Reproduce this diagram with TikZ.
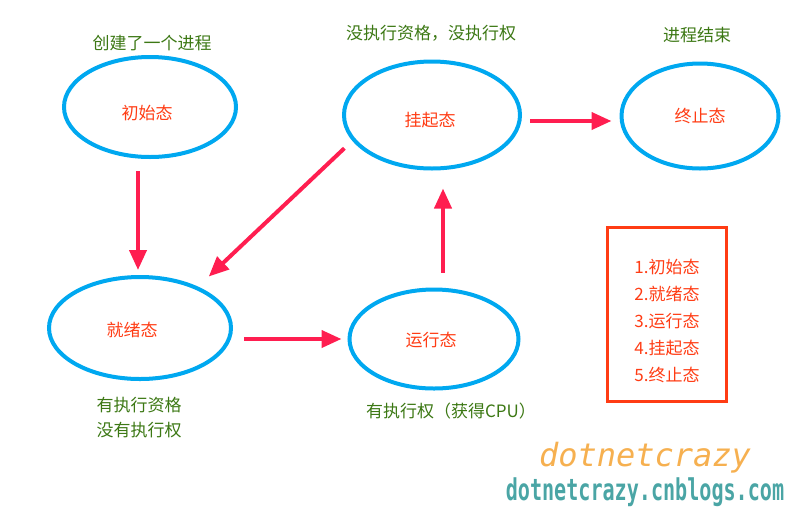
\documentclass[tikz,border=0pt]{standalone}
\usepackage{fontspec}
\newfontfamily\cjk{Noto Sans CJK SC}
\newfontfamily\wmfont{DejaVu Sans Mono}
\usetikzlibrary{shapes.geometric,arrows.meta}
\definecolor{ringblue}{RGB}{0,168,240}
\definecolor{arrred}{RGB}{255,30,80}
\definecolor{statered}{RGB}{255,60,20}
\definecolor{notegreen}{RGB}{60,120,20}
\definecolor{wmorange}{RGB}{246,176,80}
\definecolor{wmteal}{RGB}{74,165,165}
\begin{document}
\begin{tikzpicture}[x=1pt,y=-1pt,
    state/.style={ellipse,draw=ringblue,line width=4pt,inner sep=0pt},
    every label/.style={text=statered,font=\cjk\fontsize{17}{27}\selectfont,inner sep=0pt},
    note/.style={text=notegreen,font=\cjk\fontsize{17}{25}\selectfont,align=center},
    arr/.style={draw=arrred,line width=4pt,-{Triangle[length=20pt,width=17pt]}}]
  \useasboundingbox (0,0) rectangle (810,531);
  \draw
    (150,107) node[state,minimum width=172pt,minimum height=100pt,
      label={[shift={(-3,6)}]center:初始态}] (init){}
    (140,328) node[state,minimum width=182pt,minimum height=102pt,
      label={[shift={(-8,2)}]center:就绪态}] (ready){}
    (434,339) node[state,minimum width=169pt,minimum height=99pt,
      label={[shift={(-3,1)}]center:运行态}] (run){}
    (432,115) node[state,minimum width=176pt,minimum height=107pt,
      label={[shift={(-2,5)}]center:挂起态}] (hang){}
    (700,116) node[state,minimum width=157pt,minimum height=105pt,
      label={[shift={(0,0)}]center:终止态}] (stop){};
  \draw
    (152,43) node[note] (initnote){创建了一个进程}
    (431,33) node[note] (hangnote){没执行资格，没执行权}
    (697,35) node[note] (stopnote){进程结束}
    (139,418) node[note] (readynote){有执行资格\\没有执行权}
    (451,411) node[note] (runnote){有执行权（获得CPU）};
  \node[draw=statered,line width=3pt,minimum width=119pt,minimum height=174pt,
    label={[shift={(0,7)},align=left]center:1.初始态\\2.就绪态\\3.运行态\\4.挂起态\\5.终止态}]
    (legend) at (667,314) {};
  \begin{scope}
    \draw[arr] ([shift={(-12,12)}]init.south) -- ([shift={(-2,-5)}]ready.north);
    \draw[arr] ([shift={(-24,-6)}]hang.south west) -- ([shift={(3,-14)}]ready.north east);
    \draw[arr] ([shift={(11,11)}]ready.east) -- ([shift={(-6,0)}]run.west);
    \draw[arr] ([shift={(9,-15)}]run.north) -- ([shift={(11,18)}]hang.south);
    \draw[arr] ([shift={(8,6)}]hang.east) -- ([shift={(-8,5)}]stop.west);
  \end{scope}
  \node[text=wmorange,font=\wmfont\fontsize{32}{32}\selectfont\itshape] (wmtop)
    at (645,458) {dotnetcrazy};
  \node[text=wmteal,font=\wmfont\bfseries\fontsize{30}{30}\selectfont,xscale=0.67] (wmbottom)
    at (645,492) {dotnetcrazy.cnblogs.com};
\end{tikzpicture}
\end{document}
